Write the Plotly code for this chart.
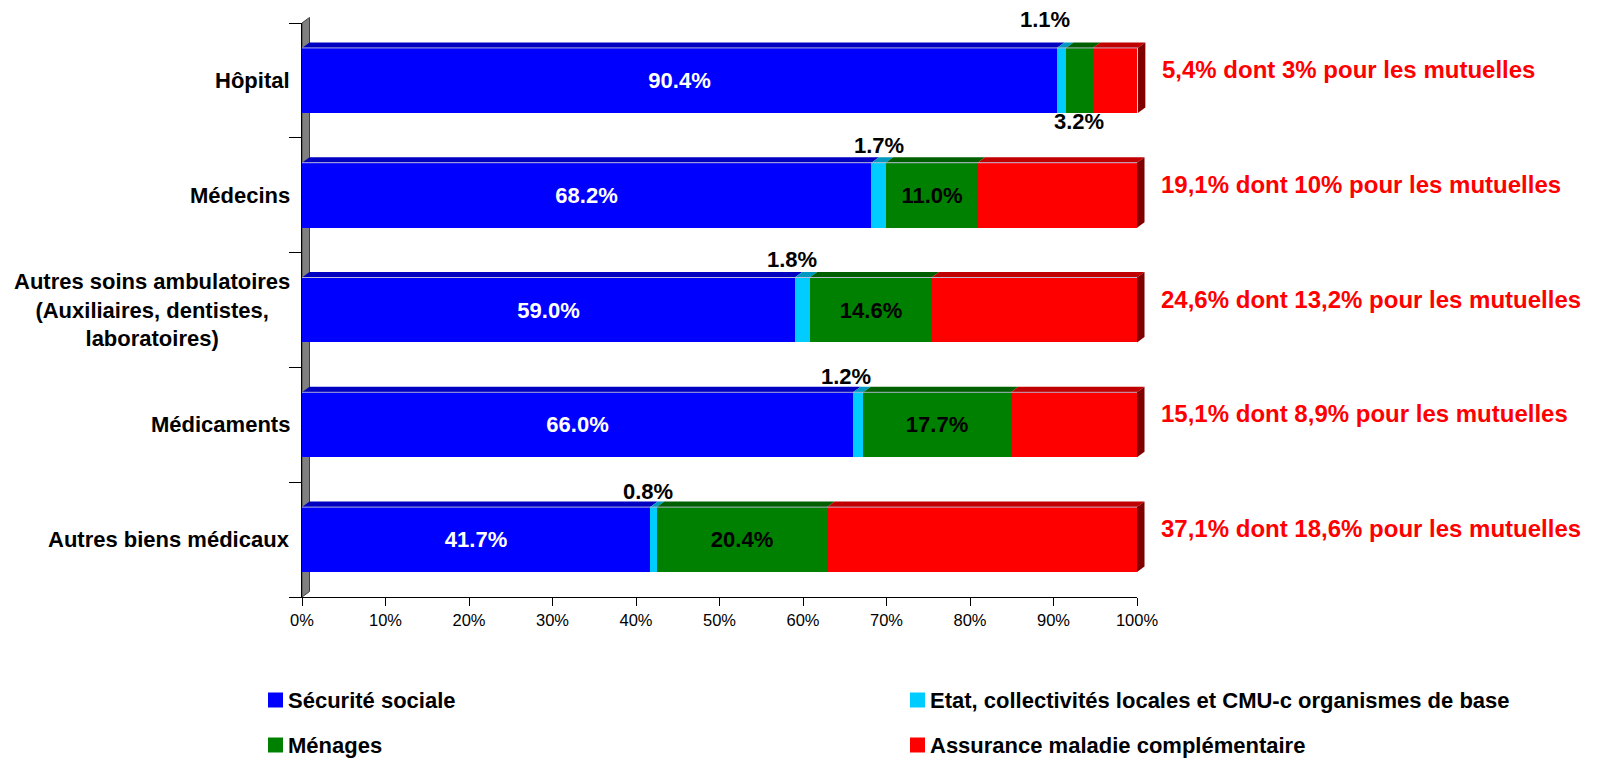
import plotly.graph_objects as go

# ---------------- data ----------------
categories = [
    "Hôpital",
    "Médecins",
    "Autres soins ambulatoires<br>(Auxiliaires, dentistes,<br>laboratoires)",
    "Médicaments",
    "Autres biens médicaux",
]
securite_sociale = [90.4, 68.2, 59.0, 66.0, 41.7]
etat_cmu = [1.1, 1.7, 1.8, 1.2, 0.8]
menages = [3.2, 11.0, 14.6, 17.7, 20.4]
assurance_compl = [5.4, 19.1, 24.6, 15.1, 37.1]
amc_notes = [
    "5,4% dont 3% pour les mutuelles",
    "19,1% dont 10% pour les mutuelles",
    "24,6% dont 13,2% pour les mutuelles",
    "15,1% dont 8,9% pour les mutuelles",
    "37,1% dont 18,6% pour les mutuelles",
]
series_names = [
    "Sécurité sociale",
    "Etat, collectivités locales et CMU-c organismes de base",
    "Ménages",
    "Assurance maladie complémentaire",
]
x_ticks = [0, 10, 20, 30, 40, 50, 60, 70, 80, 90, 100]

# ---------------- style ----------------
FONT = "Liberation Sans, Arial, sans-serif"
front_colors = ["#0000FF", "#00CCFF", "#008000", "#FF0000"]
top_colors = ["#0000C0", "#0099BF", "#006000", "#C00000"]
side_color = "#800000"
W, H = 1603, 759
L, R, T, B = 302, 1137, 23, 597
BW = 0.566           # bar thickness (category units)
DX = 0.9             # 3D depth in x data units
DY = 0.048           # 3D depth in y (category units)
# manual nudges for the small "Etat" labels (pixels)
etat_xshift = [-16, 0, -10, -12, -6]
etat_yshift = [8, -3, -2, -4, -4]

X_MIN, X_MAX = 0, 100
Y_RANGE = [len(categories) - 0.5, -0.5]   # reversed: first category at top

ypos = list(range(len(categories)))
series = [securite_sociale, etat_cmu, menages, assurance_compl]


# data -> paper helpers (so 3D faces outside the plot area are not clipped)
def xd(v):
    return (v - X_MIN) / (X_MAX - X_MIN)


def yd(v):
    return (v - Y_RANGE[0]) / (Y_RANGE[1] - Y_RANGE[0])


fig = go.Figure()

fig.add_trace(go.Bar(
    y=ypos, x=securite_sociale, orientation="h", width=BW, name=series_names[0],
    marker=dict(color=front_colors[0], line=dict(width=0)),
    text=[f"{v:.1f}%" for v in securite_sociale], textposition="inside",
    insidetextanchor="middle",
    textfont=dict(family=FONT, size=22, color="white", weight="bold"),
    showlegend=False, hoverinfo="x+name",
))
fig.add_trace(go.Bar(
    y=ypos, x=etat_cmu, orientation="h", width=BW, name=series_names[1],
    marker=dict(color=front_colors[1], line=dict(width=0)),
    textposition="none", showlegend=False, hoverinfo="x+name",
))
men_text = [f"{v:.1f}%" if v >= 8 else "" for v in menages]
fig.add_trace(go.Bar(
    y=ypos, x=menages, orientation="h", width=BW, name=series_names[2],
    marker=dict(color=front_colors[2], line=dict(width=0)),
    text=men_text, textposition="inside", insidetextanchor="middle",
    textfont=dict(family=FONT, size=22, color="black", weight="bold"),
    showlegend=False, hoverinfo="x+name",
))
fig.add_trace(go.Bar(
    y=ypos, x=assurance_compl, orientation="h", width=BW, name=series_names[3],
    marker=dict(color=front_colors[3], line=dict(width=0)),
    textposition="none", showlegend=False, hoverinfo="x+name",
))

shapes = []
annotations = []


def poly(points):
    return "M " + " L ".join(f"{xd(px)},{yd(py)}" for px, py in points) + " Z"


# gray 3D wall behind the bars
y_top, y_bot = -0.5, len(categories) - 0.5
shapes.append(dict(
    type="path", xref="paper", yref="paper", layer="below",
    path=poly([(0, y_bot), (0, y_top), (DX, y_top - DY), (DX, y_bot - DY)]),
    fillcolor="#808080", line=dict(color="#404040", width=1),
))

for i in ypos:
    front_top = i - BW / 2
    front_bot = i + BW / 2
    base = 0.0
    for k, vals in enumerate(series):
        x0, x1 = base, base + vals[i]
        shapes.append(dict(
            type="path", xref="paper", yref="paper", layer="above",
            path=poly([(x0, front_top), (x1, front_top),
                       (x1 + DX, front_top - DY), (x0 + DX, front_top - DY)]),
            fillcolor=top_colors[k], line=dict(width=0),
        ))
        base = x1
    # thin light edge between top face and front face
    shapes.append(dict(
        type="line", xref="paper", yref="paper", layer="above",
        x0=xd(0), x1=xd(base), y0=yd(front_top), y1=yd(front_top),
        line=dict(color="rgba(190,190,220,0.9)", width=1),
    ))
    shapes.append(dict(
        type="path", xref="paper", yref="paper", layer="above",
        path=poly([(base, front_top), (base + DX, front_top - DY),
                   (base + DX, front_bot - DY), (base, front_bot)]),
        fillcolor=side_color, line=dict(width=0),
    ))

    annotations.append(dict(
        xref="paper", yref="y", x=0, y=i, xanchor="right", yanchor="middle",
        xshift=-10, align="center", showarrow=False, text=categories[i],
        font=dict(family=FONT, size=22, color="black", weight="bold"),
    ))
    annotations.append(dict(
        xref="paper", yref="paper", x=xd(securite_sociale[i] + etat_cmu[i] / 2),
        y=yd(front_top - DY), xanchor="center", yanchor="bottom",
        xshift=etat_xshift[i], yshift=etat_yshift[i], showarrow=False,
        text=f"{etat_cmu[i]:.1f}%",
        font=dict(family=FONT, size=22, color="black", weight="bold"),
    ))
    if menages[i] < 8:
        annotations.append(dict(
            xref="paper", yref="paper",
            x=xd(securite_sociale[i] + etat_cmu[i] + menages[i] / 2),
            y=yd(front_bot), xanchor="center", yanchor="top", yshift=6,
            showarrow=False, text=f"{menages[i]:.1f}%",
            font=dict(family=FONT, size=22, color="black", weight="bold"),
        ))
    total = securite_sociale[i] + etat_cmu[i] + menages[i] + assurance_compl[i]
    annotations.append(dict(
        xref="paper", yref="paper", x=xd(total), y=yd(i), xanchor="left",
        yanchor="middle", xshift=22, yshift=11, showarrow=False, text=amc_notes[i],
        font=dict(family=FONT, size=24, color="#FF0000", weight="bold"),
    ))


# manual legend (2 columns x 2 rows), pixel -> paper
def px2x(px):
    return (px - L) / (R - L)


def py2y(py):
    return (B - py) / (B - T)


legend_slots = [(268, 700), (910, 700), (268, 745), (910, 745)]
for k, (lx, ly) in enumerate(legend_slots):
    shapes.append(dict(
        type="rect", xref="paper", yref="paper",
        x0=px2x(lx), x1=px2x(lx + 15), y0=py2y(ly + 7.5), y1=py2y(ly - 7.5),
        fillcolor=front_colors[k], line=dict(width=0),
    ))
    annotations.append(dict(
        xref="paper", yref="paper", x=px2x(lx + 18), y=py2y(ly),
        xanchor="left", yanchor="middle", showarrow=False, text=series_names[k],
        font=dict(family=FONT, size=22, color="black", weight="bold"),
    ))

fig.update_layout(
    width=W, height=H, autosize=False,
    margin=dict(l=L, r=W - R, t=T, b=H - B, pad=0),
    barmode="stack", bargap=0,
    plot_bgcolor="white", paper_bgcolor="white",
    shapes=shapes, annotations=annotations, showlegend=False,
    font=dict(family=FONT, color="black"),
    xaxis=dict(
        range=[X_MIN, X_MAX], tickvals=x_ticks, ticktext=[f"{t}%" for t in x_ticks],
        ticks="outside", ticklen=8, tickcolor="black", tickwidth=1,
        showline=True, linecolor="black", linewidth=1,
        showgrid=False, zeroline=False,
        tickfont=dict(family=FONT, size=16.5, color="black"),
    ),
    yaxis=dict(
        range=Y_RANGE,
        tickvals=[c - 0.5 for c in range(len(categories) + 1)],
        showticklabels=False, ticks="outside", ticklen=12,
        tickcolor="black", tickwidth=1,
        showline=True, linecolor="black", linewidth=1,
        showgrid=False, zeroline=False,
    ),
)

fig.write_html("out.html")
